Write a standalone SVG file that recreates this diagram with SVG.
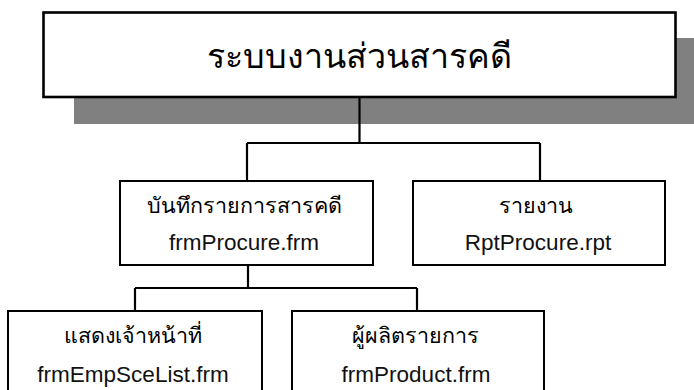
<svg xmlns="http://www.w3.org/2000/svg" width="694" height="390" viewBox="0 0 694 390">
<style>
.box{fill:#fff;stroke:#000;stroke-width:2}
.conn{fill:none;stroke:#000;stroke-width:2.2}
.t{font-family:"Liberation Sans","Noto Sans",sans-serif;text-anchor:middle;fill:#000}
.th{font-size:21.5px}
.en{font-size:22.5px;fill:#111}
.title{font-size:34px}
</style>
<rect x="0" y="0" width="694" height="390" fill="#fff"/>
<g id="root">
<rect x="74" y="38" width="620" height="86" fill="#808080"/>
<rect x="43.5" y="12.5" width="632" height="84.5" fill="#fff" stroke="#000" stroke-width="2.6"/>
<text class="t title" x="359.5" y="68">ระบบงานส่วนสารคดี</text>
</g>
<g id="connectors">
<path class="conn" d="M359.5 97V143M247 143H540M247 143V181M540 143V181"/>
<path class="conn" d="M248 265V288M135 288H417M135 288V311M417 288V311"/>
</g>
<g id="procure">
<rect class="box" x="120" y="181" width="253" height="84"/>
<text class="t th" x="244" y="213">บันทึกรายการสารคดี</text>
<text class="t en" x="244" y="250">frmProcure.frm</text>
</g>
<g id="report">
<rect class="box" x="413" y="181" width="252" height="84"/>
<text class="t th" x="536" y="213">รายงาน</text>
<text class="t en" x="538" y="250">RptProcure.rpt</text>
</g>
<g id="emp">
<rect class="box" x="8" y="311" width="254" height="90"/>
<text class="t th" x="133" y="343">แสดงเจ้าหน้าที่</text>
<text class="t en" x="133" y="382">frmEmpSceList.frm</text>
</g>
<g id="product">
<rect class="box" x="292" y="311" width="252" height="90"/>
<text class="t th" x="415" y="343">ผู้ผลิตรายการ</text>
<text class="t en" x="416" y="382">frmProduct.frm</text>
</g>
</svg>
